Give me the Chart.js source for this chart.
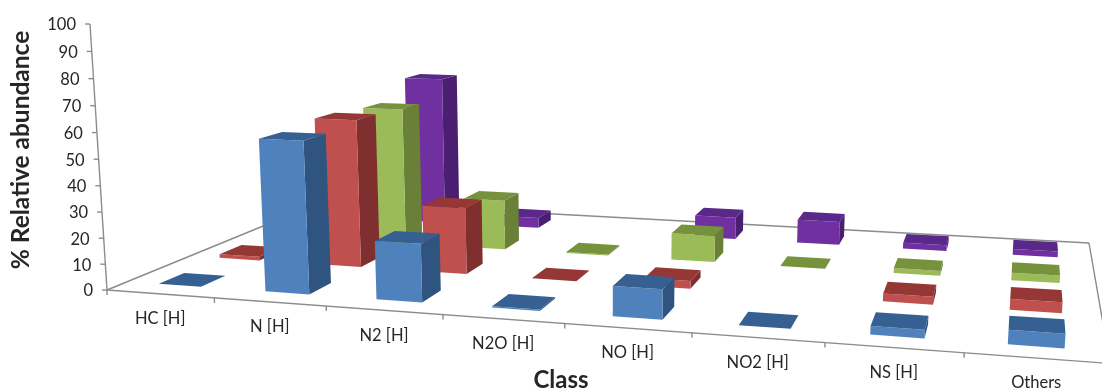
<!DOCTYPE html>
<html>
<head>
<meta charset="utf-8">
<title>Relative abundance by class</title>
<script src="https://cdn.jsdelivr.net/npm/chart.js@4"></script>
<style>
html, body { margin: 0; padding: 0; background: #fff; }
#wrap { width: 1102px; height: 391px; overflow: hidden; }
</style>
</head>
<body>
<div id="wrap"><canvas id="myChart" width="1102" height="391"></canvas></div>
<script>
const classes = ['HC [H]', 'N [H]', 'N2 [H]', 'N2O [H]', 'NO [H]', 'NO2 [H]', 'NS [H]', 'Others'];

// null = nothing plotted for that class
const sample1 = [0, 58, 22, 0.5, 11, 0, 3, 5];
const sample2 = [1.5, 59.5, 26.5, 0, 3, null, 3, 4];
const sample3 = [null, 58, 21, 0.5, 11, 0, 2, 3];
const sample4 = [null, 66, 4.5, null, 9.5, 10, 2.5, 2.5];

const frontColors = ['#4f81bd', '#c0504d', '#9bbb59', '#7030a0'];
const sideColors = ['#2f5480', '#7f302e', '#6a7f37', '#4a1f72'];
const topColors = ['#376092', '#953735', '#76923c', '#59288a'];

// floor corners: front left, front right, back right, back left
const floor = [[107, 290], [1110, 363.5], [1089, 243], [323, 201.5]];
// uprights lean towards this point, far under the plot
const upright = { x: 600, y: 8000, k: -0.03335 };

const axisColor = '#8c8c8c';
const textColor = '#262626';
const textFont = 'Lato, "Noto Sans", sans-serif';
const depthSlot = 0.4;

function floorMatrix(q) {
  const dx1 = q[1][0] - q[2][0], dx2 = q[3][0] - q[2][0], sx = q[0][0] - q[1][0] + q[2][0] - q[3][0];
  const dy1 = q[1][1] - q[2][1], dy2 = q[3][1] - q[2][1], sy = q[0][1] - q[1][1] + q[2][1] - q[3][1];
  const den = dx1 * dy2 - dx2 * dy1;
  const g = (sx * dy2 - dx2 * sy) / den;
  const h = (dx1 * sy - sx * dy1) / den;
  return {
    a: q[1][0] - q[0][0] + g * q[1][0], b: q[3][0] - q[0][0] + h * q[3][0], c: q[0][0],
    d: q[1][1] - q[0][1] + g * q[1][1], e: q[3][1] - q[0][1] + h * q[3][1], f: q[0][1],
    g: g, h: h
  };
}
const M = floorMatrix(floor);

// u: 0..1 along the classes, v: 0..1 into the depth, t: 0..1 up the value axis
function project(u, v, t) {
  const w = M.g * u + M.h * v + 1 + upright.k * t;
  return [
    (M.a * u + M.b * v + M.c + upright.k * upright.x * t) / w,
    (M.d * u + M.e * v + M.f + upright.k * upright.y * t) / w
  ];
}

function poly(c, pts, fill) {
  c.beginPath();
  pts.forEach(function (p, i) { i ? c.lineTo(p[0], p[1]) : c.moveTo(p[0], p[1]); });
  c.closePath();
  c.fillStyle = fill;
  c.fill();
}

function line(c, a, b) {
  c.beginPath();
  c.moveTo(a[0], a[1]);
  c.lineTo(b[0], b[1]);
  c.stroke();
}

function area2(p) {
  let s = 0;
  for (let i = 0; i < p.length; i++) {
    const n = p[(i + 1) % p.length];
    s += p[i][0] * n[1] - n[0] * p[i][1];
  }
  return s;
}

const perspectivePlugin = {
  id: 'perspective',
  // the bar elements only supply geometry, every face is painted here
  beforeDatasetsDraw(chart) {
    const c = chart.ctx, area = chart.chartArea;
    const ys = chart.scales.y;

    c.save();
    c.strokeStyle = axisColor;
    c.lineWidth = 1.4;
    line(c, project(0, 0, 0), project(1, 0, 0));
    line(c, project(1, 0, 0), project(1, 1, 0));
    line(c, project(1, 1, 0), project(0, 1, 0));
    line(c, project(0, 1, 0), project(0, 0, 0));
    line(c, project(0, 0, 0), project(0, 0, 1));

    c.fillStyle = textColor;
    c.font = '16.5px ' + textFont;
    c.textBaseline = 'middle';
    c.textAlign = 'right';
    ys.ticks.forEach(function (tick) {
      const t = (area.bottom - ys.getPixelForValue(tick.value)) / area.height;
      const p = project(0, 0, t);
      line(c, p, [p[0] - 5, p[1]]);
      c.fillText(String(tick.value), p[0] - 14, p[1] + 1);
    });

    c.textAlign = 'center';
    classes.forEach(function (name, i) {
      const p = project((i + 1) / classes.length, 0, 0);
      if (i < classes.length - 1) line(c, p, [p[0], p[1] + 5]);
      const m = project((i + 0.5) / classes.length, 0, 0);
      c.fillText(name, m[0], m[1] + 25);
    });
    const p0 = project(0, 0, 0);
    line(c, p0, [p0[0], p0[1] + 5]);

    c.font = 'bold 24px ' + textFont;
    c.fillText('Class', 561, 380);
    c.translate(21, 150);
    c.rotate(-Math.PI / 2);
    c.font = 'bold 24.5px ' + textFont;
    c.fillText('% Relative abundance', 0, 0);
    c.restore();

    // back series first so nearer bars cover it
    for (let s = chart.data.datasets.length - 1; s >= 0; s--) {
      const v0 = (s + (1 - depthSlot) / 2) / 4, v1 = v0 + depthSlot / 4;
      chart.getDatasetMeta(s).data.forEach(function (bar, i) {
        if (chart.data.datasets[s].data[i] === null) return;
        const u0 = (bar.x - bar.width / 2 - area.left) / area.width;
        const u1 = (bar.x + bar.width / 2 - area.left) / area.width;
        const t = (bar.base - bar.y) / area.height;
        const fl = project(u0, v0, 0), fr = project(u1, v0, 0), br = project(u1, v1, 0);
        const tfl = project(u0, v0, t), tfr = project(u1, v0, t), tbr = project(u1, v1, t), tbl = project(u0, v1, t);
        const right = [fr, br, tbr, tfr];
        if (area2(right) < 0) poly(c, right, sideColors[s]);
        poly(c, [fl, fr, tfr, tfl], frontColors[s]);
        poly(c, [tfl, tfr, tbr, tbl], topColors[s]);
      });
    }
    return false;
  }
};

function series(data, i) {
  return { label: 'Series ' + (i + 1), data: data, backgroundColor: frontColors[i] };
}

const config = {
  type: 'bar',
  data: {
    labels: classes,
    datasets: [sample1, sample2, sample3, sample4].map(series)
  },
  options: {
    responsive: false,
    animation: false,
    grouped: false,
    categoryPercentage: 1,
    barPercentage: 0.4,
    layout: { padding: 0 },
    plugins: { legend: { display: false }, tooltip: { enabled: false } },
    scales: {
      x: { display: false },
      y: { display: false, min: 0, max: 100, ticks: { stepSize: 10 } }
    }
  },
  plugins: [perspectivePlugin]
};

const myChart = new Chart(document.getElementById('myChart').getContext('2d'), config);
</script>
</body>
</html>
